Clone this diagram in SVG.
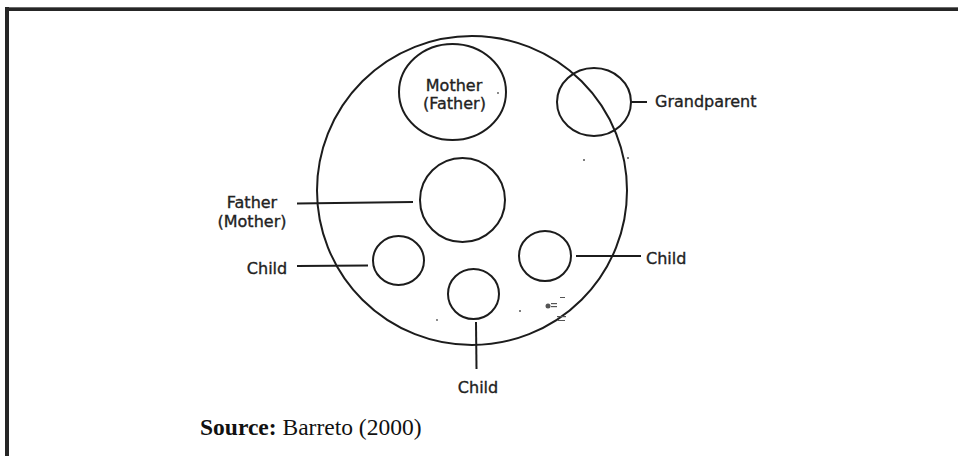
<svg xmlns="http://www.w3.org/2000/svg" width="958" height="456" viewBox="0 0 958 456">
  <style>
    .ring { fill: none; stroke: #1c1c1c; stroke-width: 2; }
    .lead { fill: none; stroke: #1c1c1c; stroke-width: 2; }
    .lbl { font-family: "DejaVu Sans", "Liberation Sans", sans-serif; font-size: 16px; fill: #222; stroke: #222; stroke-width: 0.35; }
    .mid { text-anchor: middle; }
    .src { font-family: "Liberation Serif", "Times New Roman", serif; font-size: 23.5px; fill: #111; }
    .speck { fill: #555; }
  </style>

  <!-- frame: top and left rules -->
  <rect x="0" y="0" width="958" height="456" fill="#ffffff"/>
  <rect x="5" y="7" width="953" height="4" fill="#262626"/>
  <rect x="5" y="7" width="953" height="1" fill="#6a6a6a"/>
  <rect x="5" y="7" width="4" height="449" fill="#262626"/>

  <!-- household boundary -->
  <g id="household">
    <ellipse class="ring" cx="472" cy="190.5" rx="155" ry="154.5"/>
  </g>

  <g id="mother">
    <ellipse class="ring" cx="452.5" cy="92" rx="53.5" ry="48"/>
    <text class="lbl mid" x="454" y="91">Mother</text>
    <text class="lbl mid" x="454.5" y="109">(Father)</text>
  </g>

  <g id="grandparent">
    <ellipse class="ring" cx="594" cy="102" rx="37" ry="34"/>
    <text class="lbl" x="655" y="107">Grandparent</text>
  </g>

  <g id="father">
    <ellipse class="ring" cx="462.5" cy="200" rx="42.5" ry="42"/>
    <text class="lbl mid" x="252" y="208">Father</text>
    <text class="lbl mid" x="252" y="227">(Mother)</text>
  </g>

  <g id="child-left">
    <ellipse class="ring" cx="398.5" cy="260.5" rx="25.5" ry="24.5"/>
    <text class="lbl mid" x="267" y="274">Child</text>
  </g>

  <g id="child-right">
    <ellipse class="ring" cx="545" cy="256" rx="26" ry="25"/>
    <text class="lbl" x="646" y="264">Child</text>
  </g>

  <g id="child-bottom">
    <ellipse class="ring" cx="473.5" cy="294" rx="25.5" ry="25"/>
    <text class="lbl mid" x="478" y="393">Child</text>
  </g>

  <!-- leader lines -->
  <g id="connectors">
    <line class="lead" x1="631" y1="102" x2="647" y2="102"/>
    <line class="lead" x1="297" y1="203.5" x2="413" y2="202"/>
    <line class="lead" x1="297" y1="266" x2="368" y2="265.5"/>
    <line class="lead" x1="576" y1="256" x2="641" y2="256"/>
    <line class="lead" x1="476" y1="322" x2="476.5" y2="369"/>
  </g>

  <!-- small marks in the lower right of the boundary -->
  <g id="marks">
    <circle class="speck" cx="548" cy="306" r="2.5" fill="#222"/>
    <rect class="speck" x="551" y="303" width="6" height="1.2"/>
    <rect class="speck" x="551" y="306" width="6" height="1.2"/>
    <rect class="speck" x="560" y="297" width="5" height="1"/>
    <rect class="speck" x="557" y="316" width="9" height="1.2"/>
    <rect class="speck" x="558" y="320" width="7" height="1"/>
    <circle class="speck" cx="498" cy="93" r="0.9"/>
    <circle class="speck" cx="520" cy="311" r="1"/>
    <circle class="speck" cx="437" cy="320" r="0.9"/>
    <circle class="speck" cx="584" cy="160" r="1"/>
    <circle class="speck" cx="628" cy="158" r="1"/>
  </g>

  <text class="src" x="200" y="435"><tspan font-weight="bold">Source:</tspan> Barreto (2000)</text>
</svg>
